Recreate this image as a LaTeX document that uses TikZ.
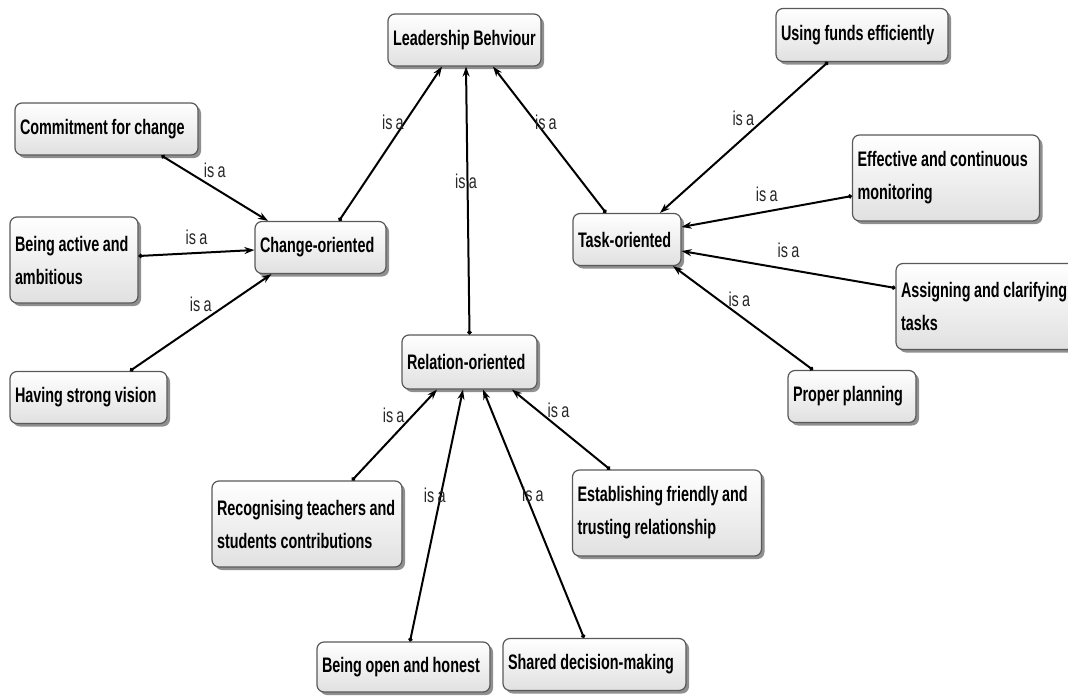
\documentclass[tikz,border=0pt]{standalone}
\usepackage{fontspec}
\setmainfont{Liberation Sans}
\newfontfamily\conceptfont[FakeStretch=0.685,WordSpace=0.9]{Liberation Sans}
\newfontfamily\isafont[FakeStretch=0.72,WordSpace=0.8]{Liberation Sans}
\usetikzlibrary{shadows,arrows.meta,positioning}
\hyphenpenalty=10000
\tikzstyle{concept}=[draw=black!65, line width=1.2pt, rounded corners=7pt,
  top color=white, bottom color=black!12, align=flush left, inner xsep=5pt,
  inner ysep=2pt, minimum height=52pt,
  font=\conceptfont\bfseries\fontsize{21}{33}\selectfont,
  drop shadow={shadow xshift=3pt, shadow yshift=-3pt, fill=black!55, opacity=0.8}]
\tikzstyle{twoline} = [minimum height=86pt]
\tikzstyle{isa} = [inner sep=0pt, text=black!85,
  font=\isafont\fontsize{20}{22}\selectfont]
\tikzstyle{isaline} = [draw, line width=2pt, color=black,
  {Circle[length=4pt]}-{Stealth[length=10pt,width=7pt]}]
\newcommand{\concept}[4]{node (#2) [concept, text width=#3, #1] {#4}}

\begin{document}
\begin{tikzpicture}[x=1pt,y=-1pt]
  \useasboundingbox (0,0) rectangle (1068,696);

  % top concept and the three kinds of behaviour
  \path (464.5,40) \concept {}{LEAD}{143pt}{Leadership Behviour};
  \path (LEAD.center)+(-144,207.5) \concept {}{CHANGE}{121pt}{Change-oriented};
  \path (LEAD.center)+(5,322) \concept {minimum height=54pt}{RELATION}{125pt}{Relation-oriented};
  \path (LEAD.center)+(162.5,199.5) \concept {}{TASK}{98pt}{Task-oriented};

  % change-oriented block
  \path (CHANGE.center)+(-214,-118.5) \concept {}{COMMIT}{173pt}{Commitment for change};
  \path (CHANGE.center)+(-246.5,12.5) \concept {twoline}{ACTIVE}{118pt}{Being active and\\ ambitious};
  \path (CHANGE.center)+(-232,150) \concept {}{VISION}{147pt}{Having strong vision};

  % task-oriented block
  \path (TASK.center)+(235,-204.5) \concept {minimum height=53pt}{FUNDS}{162pt}{Using funds efficiently};
  \path (TASK.center)+(319,-61.5) \concept {twoline}{MONITOR}{177pt}{Effective and continuous\\ monitoring};
  \path (TASK.center)+(359,67) \concept {twoline}{ASSIGN}{170pt}{Assigning and clarifying\\ tasks};
  \path (TASK.center)+(225,157) \concept {}{PLAN}{118pt}{Proper planning};

  % relation-oriented block
  \path (RELATION.center)+(-162.5,162) \concept {twoline}{RECOG}{180pt}{Recognising teachers and\\ students contributions};
  \path (RELATION.center)+(-66,305) \concept {minimum height=50pt}{OPEN}{163pt}{Being open and honest};
  \path (RELATION.center)+(125,302.5) \concept {}{SHARED}{173pt}{Shared decision-making};
  \path (RELATION.center)+(197.5,151) \concept {twoline}{ESTAB}{179pt}{Establishing friendly and\\ trusting relationship};

  %Draw arrows between elements
  \path [isaline] ([xshift=18.5pt]CHANGE.north) -- node [isa, pos=0.64, xshift=-12pt] {is a} ([xshift=-22.5pt]LEAD.south);
  \path [isaline] (RELATION.north) -- node [isa, pos=0.57, xshift=-1.5pt] {is a} ([xshift=1.5pt]LEAD.south);
  \path [isaline] ([xshift=-21pt]TASK.north) -- node [isa, pos=0.62, xshift=10pt] {is a} ([xshift=28.5pt]LEAD.south);

  \path [isaline] ([xshift=55pt]COMMIT.south) -- node [isa, pos=0.5, yshift=17.5pt] {is a} ([xshift=-52.5pt]CHANGE.north);
  \path [isaline] ([yshift=4pt]ACTIVE.east) -- node [isa, pos=0.5, yshift=15.5pt] {is a} ([yshift=-2.5pt]CHANGE.west);
  \path [isaline] ([xshift=41.5pt]VISION.north) -- node [isa, pos=0.5, yshift=18pt] {is a} ([xshift=-49pt]CHANGE.south);

  \path [isaline] ([xshift=-34pt]FUNDS.south) -- node [isa, pos=0.37, xshift=-22.5pt] {is a} ([xshift=33pt]TASK.north);
  \path [isaline] ([yshift=-18pt]MONITOR.west) -- node [isa, pos=0.5, yshift=17pt] {is a} ([yshift=12.5pt]TASK.east);
  \path [isaline] ([yshift=18.5pt]ASSIGN.west) -- node [isa, pos=0.5, yshift=19pt] {is a} ([yshift=-11.5pt]TASK.east);
  \path [isaline] ([xshift=-39pt]PLAN.north) -- node [isa, pos=0.68, xshift=21.5pt] {is a} ([xshift=46pt]TASK.south);

  \path [isaline] ([xshift=45pt]RECOG.north) -- node [isa, pos=0.72, xshift=-19.5pt] {is a} ([xshift=-32.5pt]RELATION.south);
  \path [isaline] ([xshift=6.5pt]OPEN.north) -- node [isa, pos=0.58, xshift=-6pt] {is a} ([xshift=-6.5pt]RELATION.south);
  \path [isaline] ([xshift=-10.5pt]SHARED.north) -- node [isa, pos=0.58, xshift=7.5pt] {is a} ([xshift=13.5pt]RELATION.south);
  \path [isaline] ([xshift=-57pt]ESTAB.north) -- node [isa, pos=0.74, xshift=21pt] {is a} ([xshift=42.5pt]RELATION.south);

\end{tikzpicture}
\end{document}
